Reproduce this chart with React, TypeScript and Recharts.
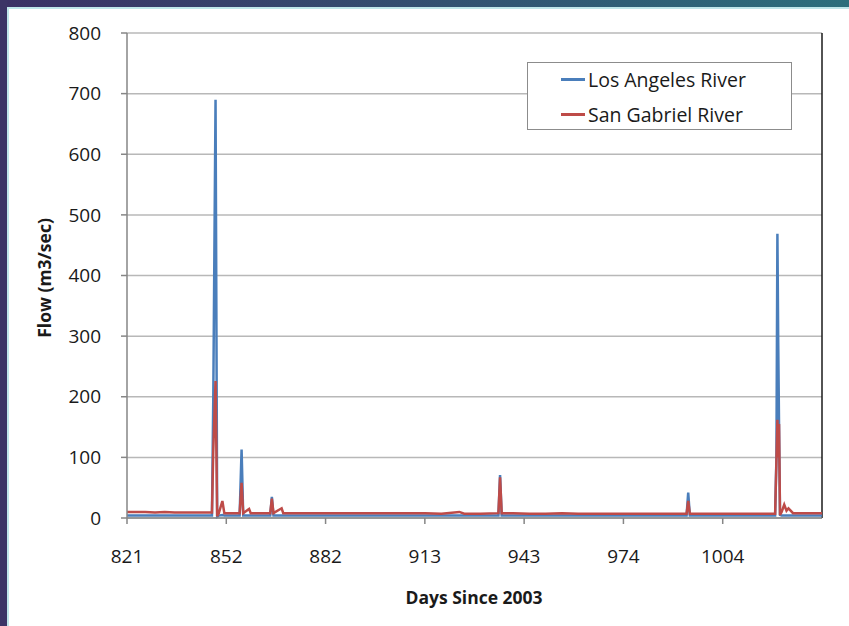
import { LineChart, Line, XAxis, YAxis, CartesianGrid, Legend, ReferenceLine } from "recharts";

// day number since 2003 (irregular steps, denser around the storm peaks)
const days = [
  821.4, 824, 827, 830, 833, 836, 839, 842, 845, 847.5,
  847.9, 848.6, 849.1, 849.6, 850.7, 851.3, 853, 856.0, 856.6, 857.1,
  858.9, 859.4, 862, 865.4, 865.9, 866.4, 868.9, 869.4, 873, 878,
  883, 888, 893, 898, 903, 908, 913, 918, 923.5, 925,
  930, 935.5, 936.0, 936.5, 940, 945, 950, 955, 960, 965,
  970, 975, 980, 985, 990, 993.3, 993.8, 994.3, 998, 1003,
  1008, 1013, 1017, 1020.5, 1020.9, 1021.2, 1021.45, 1021.7, 1022.0, 1022.5,
  1023.3, 1024, 1024.6, 1026, 1030, 1034.9,
];

const losAngeles = [
  4, 4, 4, 4, 4, 4, 4, 4, 4, 4,
  195, 690, 2, 4, 5, 4, 4, 4, 113, 4,
  4, 4, 4, 4, 35, 4, 4, 4, 4, 4,
  4, 4, 4, 4, 4, 4, 4, 4, 4, 4,
  4, 4, 71, 4, 4, 4, 4, 4, 4, 4,
  4, 4, 4, 4, 4, 4, 42, 4, 4, 4,
  4, 4, 4, 4, 100, 469, 290, 153, 5, 4,
  4, 4, 4, 4, 4, 4,
];

const sanGabriel = [
  10, 10, 10, 9, 10, 9, 9, 9, 9, 9,
  110, 226, 3, 8, 28, 8, 8, 8, 58, 8,
  15, 8, 8, 8, 32, 8, 16, 8, 8, 8,
  8, 8, 8, 8, 8, 8, 8, 7, 10, 7,
  7, 8, 67, 8, 8, 7, 7, 8, 7, 7,
  7, 7, 7, 7, 7, 7, 28, 7, 7, 7,
  7, 7, 7, 7, 95, 162, 100, 155, 5, 10,
  22, 12, 16, 8, 8, 8,
];

const xTicks = [821.4, 851.9, 882.4, 912.9, 943.4, 973.9, 1004.4];
const yTicks = [0, 100, 200, 300, 400, 500, 600, 700, 800];

const seriesNames = ["Los Angeles River", "San Gabriel River"];
const seriesColors = ["#4a7ebb", "#be4b48"];

const data = days.map((d, i) => ({ day: d, la: losAngeles[i], sg: sanGabriel[i] }));

const font = "'Open Sans', sans-serif";

const LegendBox = () => (
  <div
    style={{
      position: "absolute",
      left: 527,
      top: 62,
      width: 265,
      height: 68,
      border: "1px solid #8c8c8c",
      background: "#fff",
      fontFamily: font,
      fontSize: 19.5,
      color: "#1a1a1a",
      boxSizing: "border-box",
    }}
  >
    {seriesNames.map((name, i) => (
      <div key={name} style={{ position: "absolute", left: 33, top: 1 + i * 35, display: "flex", alignItems: "center", height: 30 }}>
        <div style={{ width: 24, height: 3, background: seriesColors[i], marginRight: 3 }} />
        <span>{name}</span>
      </div>
    ))}
  </div>
);

export default function App() {
  return (
    <div style={{ position: "absolute", left: 0, top: 0, width: 849, height: 626, background: "#fff", overflow: "hidden" }}>
      <LineChart width={849} height={626} data={data} margin={{ top: 33, right: 27, bottom: 0, left: 0 }}>
        <CartesianGrid vertical={false} stroke="#b8b8b8" strokeWidth={1.5} />
        <XAxis
          dataKey="day"
          type="number"
          domain={[821.4, 1034.9]}
          ticks={xTicks}
          tickFormatter={(v) => String(Math.round(v))}
          height={108}
          stroke="#868686"
          strokeWidth={1.5}
          tickSize={6}
          tickMargin={26}
          tick={{ fill: "#1a1a1a", fontSize: 19, fontFamily: font }}
          allowDataOverflow
        />
        <YAxis
          domain={[0, 800]}
          ticks={yTicks}
          width={127}
          stroke="#868686"
          strokeWidth={1.5}
          tickSize={6}
          tickMargin={20}
          tick={{ fill: "#1a1a1a", fontSize: 19, fontFamily: font }}
        />
        <ReferenceLine x={1034.9} stroke="#1a1a1a" strokeWidth={1.5} />
        <Line dataKey="la" name={seriesNames[0]} stroke={seriesColors[0]} strokeWidth={2.5} dot={false} isAnimationActive={false} />
        <Line dataKey="sg" name={seriesNames[1]} stroke={seriesColors[1]} strokeWidth={2.5} dot={false} isAnimationActive={false} />
        <Legend content={() => null} />
      </LineChart>
      <LegendBox />
      <div
        style={{
          position: "absolute",
          left: 44,
          top: 278,
          transform: "translate(-50%, -50%) rotate(-90deg)",
          fontFamily: font,
          fontWeight: 700,
          fontSize: 17.5,
          whiteSpace: "nowrap",
          color: "#1a1a1a",
        }}
      >
        Flow (m3/sec)
      </div>
      <div
        style={{
          position: "absolute",
          left: 474,
          top: 597,
          transform: "translate(-50%, -50%)",
          fontFamily: font,
          fontWeight: 700,
          fontSize: 17.5,
          whiteSpace: "nowrap",
          color: "#1a1a1a",
        }}
      >
        Days Since 2003
      </div>
      <div style={{ position: "absolute", left: 0, top: 0, width: 849, height: 7, background: "linear-gradient(to right, #3b3165, #2c6e7c)" }} />
      <div style={{ position: "absolute", left: 0, top: 7, width: 849, height: 2, background: "#bfe6ea" }} />
      <div style={{ position: "absolute", left: 0, top: 0, width: 7, height: 626, background: "#3b3466" }} />
      <div style={{ position: "absolute", left: 7, top: 7, width: 2, height: 619, background: "#bfe6ea" }} />
    </div>
  );
}
